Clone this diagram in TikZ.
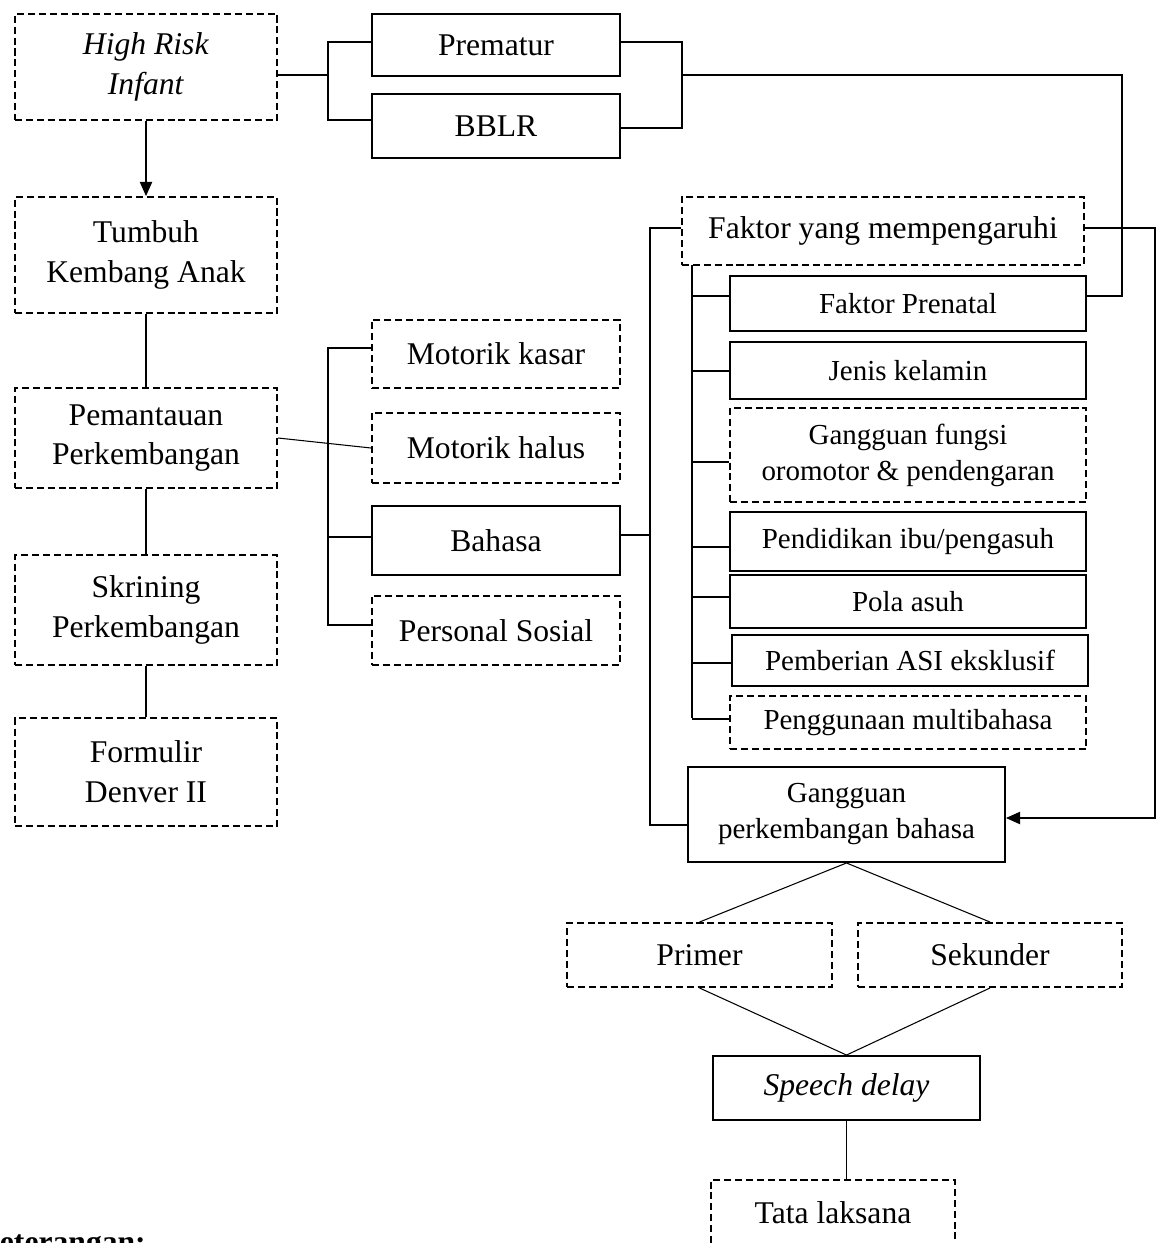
\documentclass[tikz,border=0pt]{standalone}
\usepackage{fontspec}
\setmainfont{Liberation Serif}
\usetikzlibrary{arrows.meta}
\newcommand\mybox[7]{\node[#6, minimum width={(#4-#2)*0.02cm}, minimum height={(#5-#3)*0.02cm}] (#1) at ({(#2+#4)/2},{(#3+#5)/2}) {#7};}
\begin{document}
\begin{tikzpicture}[x=0.02cm,y=-0.02cm,
 bx/.style={draw, line width=1.1pt, align=center, inner sep=0pt, font=\fontsize{18}{22.7}\selectfont},
 solidbox/.style={bx},
 dashbox/.style={bx, dash pattern=on 4pt off 2.2pt},
 small/.style={font=\fontsize{16.5}{20.5}\selectfont},
 conn/.style={line width=0.6pt}]
\useasboundingbox (0,0) rectangle (1165,1243);
% left column
\mybox{hri}{15}{14}{277}{120}{dashbox}{\textit{High Risk}\\\textit{Infant}}
\mybox{tka}{15}{197}{277}{313}{dashbox}{Tumbuh\\Kembang Anak}
\mybox{pem}{15}{388}{277}{488}{dashbox}{Pemantauan\\Perkembangan}
\mybox{skr}{15}{555}{277}{665}{dashbox}{Skrining\\Perkembangan}
\mybox{fdv}{15}{718}{277}{826}{dashbox}{Formulir\\Denver II}
% top middle
\mybox{prem}{372}{14}{620}{76}{solidbox}{Prematur}
\mybox{bblr}{372}{94}{620}{158}{solidbox}{BBLR}
% middle column
\mybox{mk}{372}{320}{620}{388}{dashbox}{Motorik kasar}
\mybox{mh}{372}{413}{620}{483}{dashbox}{Motorik halus}
\mybox{bhs}{372}{506}{620}{575}{solidbox}{Bahasa}
\mybox{ps}{372}{596}{620}{665}{dashbox}{Personal Sosial}
% right column
\mybox{fym}{682}{197}{1084}{265}{dashbox}{Faktor yang mempengaruhi}
\mybox{fp}{730}{276}{1086}{331}{solidbox,small}{Faktor Prenatal}
\mybox{jk}{730}{342}{1086}{399}{solidbox,small}{Jenis kelamin}
\mybox{gfo}{730}{408}{1086}{502}{dashbox,small}{Gangguan fungsi\\oromotor \& pendengaran}
\mybox{pip}{730}{512}{1086}{571}{solidbox,small}{Pendidikan ibu/pengasuh}
\mybox{pa}{730}{575}{1086}{628}{solidbox,small}{Pola asuh}
\mybox{pae}{732}{635}{1088}{686}{solidbox,small}{Pemberian ASI eksklusif}
\mybox{pmb}{730}{696}{1086}{749}{dashbox,small}{Penggunaan multibahasa}
\mybox{gpb}{688}{767}{1005}{862}{solidbox,small}{Gangguan\\perkembangan bahasa}
\mybox{pri}{567}{923}{832}{987}{dashbox}{Primer}
\mybox{sek}{858}{923}{1122}{987}{dashbox}{Sekunder}
\mybox{sd}{713}{1056}{980}{1120}{solidbox}{\textit{Speech delay}}
\mybox{tl}{711}{1180}{955}{1246}{dashbox}{Tata laksana}
\node[anchor=base west, inner sep=0pt, font=\fontsize{18}{22}\selectfont\bfseries] (ket) at (-25,1252) {Keterangan:};
% connectors: left column
\draw[conn, -{Triangle[length=8pt,width=7pt]}] (hri.south) -- (tka.north);
\draw[conn] (tka.south) -- (pem.north);
\draw[conn] (pem.south) -- (skr.north);
\draw[conn] (skr.south) -- (fdv.north);
% HRI to Prematur/BBLR
\coordinate (jL) at (328,75);
\draw[conn] (hri.east |- jL) -- (jL);
\draw[conn] (prem.west |- 0,42) -| (jL) |- (bblr.west |- 0,120);
% Prematur/BBLR to Faktor Prenatal
\coordinate (jR) at (682,75);
\draw[conn] (prem.east |- 0,42) -| (jR) |- (bblr.east |- 0,128);
\draw[conn] (jR) -- (1122,75) |- (fp.east |- 0,296);
% Pemantauan to sub-aspects
\draw[conn] (pem.east) -- (mh.west);
\draw[conn] (mk.west |- 0,348) -- (328,348) |- (ps.west |- 0,625);
\draw[conn] (bhs.west |- 0,537) -- (328,537);
% Bahasa to Faktor / Gangguan
\draw[conn] (bhs.east |- 0,535) -- (650,535);
\draw[conn] (fym.west |- 0,228) -- (650,228) |- (gpb.west |- 0,825);
% Faktor to Gangguan
\draw[conn, -{Triangle[length=8pt,width=7pt]}] (fym.east |- 0,228) -- (1155,228) |- (gpb.east |- 0,818);
% Faktor list
\draw[conn] (692,265) -- (692,718);
\foreach \n/\yy in {fp/296,jk/371,gfo/462,pip/547,pa/597,pae/663,pmb/719}
  \draw[conn] (692,\yy) -- (\n.west |- 0,\yy);
% bottom
\draw[conn] (gpb.south) -- (pri.north);
\draw[conn] (gpb.south) -- (sek.north);
\draw[conn] (pri.south) -- (sd.north);
\draw[conn] (sek.south) -- (sd.north);
\draw[conn] (sd.south) -- (sd.south |- tl.north);
\end{tikzpicture}
\end{document}
